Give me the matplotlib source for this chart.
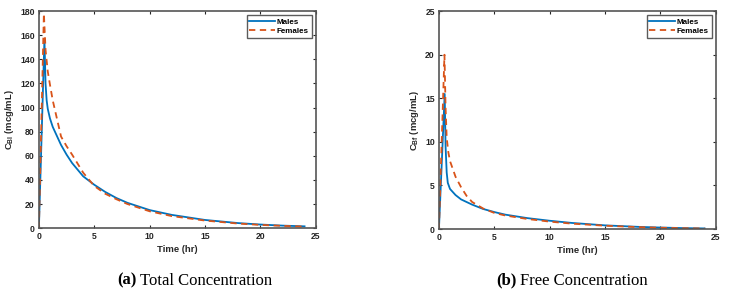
import matplotlib.pyplot as plt

# total concentration (hr, mcg/mL)
t_tot_m = [0, 0.25, 0.5, 0.6, 0.7, 0.8, 1, 1.25, 1.5, 2, 2.5, 3, 4, 5, 6, 7, 8, 10, 12, 15, 18, 20, 22, 24]
c_tot_m = [0, 78, 157, 120, 106, 99, 91, 84, 79, 69, 61, 54, 43, 36, 30, 25, 21, 15, 11, 6.8, 4.2, 3.0, 2.1, 1.5]
t_tot_f = [0, 0.25, 0.45, 0.6, 0.8, 1, 1.25, 1.5, 2, 2.5, 3, 4, 5, 6, 7, 8, 10, 12, 15, 18, 20, 22, 24]
c_tot_f = [0, 98, 178, 148, 130, 119, 106, 96, 76, 68, 61, 46, 35, 28.5, 24, 20, 14, 10, 6.3, 3.8, 2.7, 1.9, 1.3]

# free concentration (hr, mcg/mL)
t_free_m = [0, 0.25, 0.52, 0.6, 0.7, 0.8, 1, 1.5, 2, 3, 4, 5, 6, 8, 10, 12, 15, 18, 20, 22, 24]
c_free_m = [0, 7.4, 15.5, 9.5, 6.5, 5.3, 4.6, 3.9, 3.4, 2.8, 2.3, 1.95, 1.65, 1.25, 0.95, 0.7, 0.42, 0.25, 0.17, 0.11, 0.07]
t_free_f = [0, 0.25, 0.5, 0.6, 0.7, 0.85, 1, 1.5, 2, 2.5, 3, 4, 5, 6, 8, 10, 12, 15, 18, 20, 22, 24]
c_free_f = [0, 10, 20, 14, 10.5, 8.8, 7.8, 6.0, 4.8, 3.8, 3.1, 2.35, 1.85, 1.55, 1.15, 0.85, 0.62, 0.38, 0.22, 0.15, 0.1, 0.06]

blue = '#0072BD'
orange = '#D95319'
axc = '#262626'
plt.rcParams['font.family'] = ['Liberation Sans', 'DejaVu Sans']
plt.rcParams['mathtext.fontset'] = 'custom'
plt.rcParams['mathtext.bf'] = 'Liberation Sans:bold'
plt.rcParams['mathtext.rm'] = 'Liberation Sans'

fig = plt.figure(figsize=(7.34, 2.94), dpi=100)
ax1 = fig.add_axes([0.053, 0.224, 0.377, 0.738])
ax2 = fig.add_axes([0.598, 0.221, 0.377, 0.741])


def style(ax, ymax, ylab):
    ax.set_xlim(0, 25)
    ax.set_ylim(0, ymax)
    ax.set_xticks([0, 5, 10, 15, 20, 25])
    ax.tick_params(direction='in', top=True, right=True, length=2.5, width=0.8,
                   labelsize=6.2, colors=axc, pad=3)
    for lbl in ax.get_xticklabels() + ax.get_yticklabels():
        lbl.set_fontweight('bold')
    for s in ax.spines.values():
        s.set_color('#555555')
        s.set_linewidth(1.2)
    ax.set_xlabel('Time (hr)', fontsize=6.8, fontweight='bold', color=axc, labelpad=2.5)
    ax.set_ylabel(ylab, fontsize=6.8, fontweight='bold', color=axc, labelpad=3)
    leg = ax.legend(loc='upper right', prop={'weight': 'bold', 'size': 5.8},
                    fancybox=False, edgecolor='#333333', handlelength=3.2,
                    handletextpad=0.2, borderpad=0.35, labelspacing=0.25)
    leg.get_frame().set_linewidth(1.0)


ax1.plot(t_tot_m, c_tot_m, color=blue, lw=1.3, label='Males')
ax1.plot(t_tot_f, c_tot_f, color=orange, lw=1.3, ls=(0, (3.5, 2.5)), label='Females')
style(ax1, 180, r'C$_{\mathbf{BI}}$ (mcg/mL)')
ax1.set_yticks(range(0, 181, 20))

ax2.plot(t_free_m, c_free_m, color=blue, lw=1.3, label='Males')
ax2.plot(t_free_f, c_free_f, color=orange, lw=1.3, ls=(0, (3.5, 2.5)), label='Females')
style(ax2, 25, r'C$_{\mathbf{Bf}}$ (mcg/mL)')

cap = dict(fontsize=12, family='Liberation Serif', va='baseline')
fig.text(0.1866, 0.031, '(a)', fontweight='bold', ha='right', **cap)
fig.text(0.1914, 0.031, 'Total Concentration', ha='left', **cap)
fig.text(0.7036, 0.031, '(b)', fontweight='bold', ha='right', **cap)
fig.text(0.7090, 0.031, 'Free Concentration', ha='left', **cap)

fig.savefig('out.png', dpi=100)
